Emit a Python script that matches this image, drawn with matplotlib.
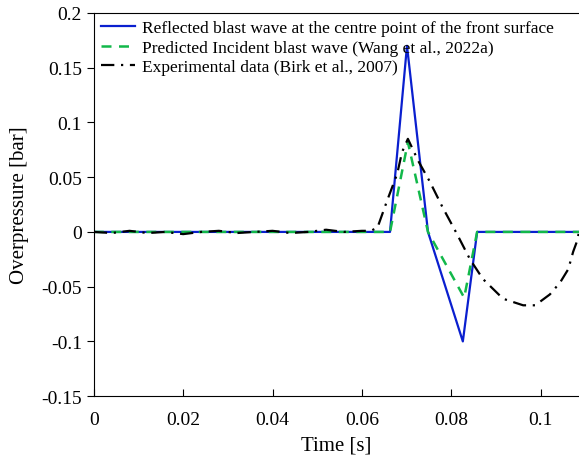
import matplotlib
matplotlib.use('Agg')
import matplotlib.pyplot as plt

# reflected wave at the centre point of the front surface
t_refl = [0.0, 0.0663, 0.0701, 0.0748, 0.0826, 0.0858, 0.11]
p_refl = [0.0, 0.0, 0.170, 0.0, -0.100, 0.0, 0.0]

# predicted incident wave
t_inc = [0.0, 0.0663, 0.0703, 0.0748, 0.0829, 0.0858, 0.11]
p_inc = [0.0, 0.0, 0.082, 0.0, -0.060, 0.0, 0.0]

# experimental record
t_exp = [0.0, 0.004, 0.008, 0.012, 0.016, 0.020, 0.024, 0.028, 0.032, 0.036,
         0.040, 0.044, 0.048, 0.052, 0.056, 0.060, 0.062, 0.0635, 0.0656,
         0.0679, 0.069, 0.0703, 0.0726, 0.0752, 0.078, 0.0813, 0.0842,
         0.0871, 0.0916, 0.0961, 0.0988, 0.1021, 0.1044, 0.1062, 0.1073,
         0.1082, 0.1086]
p_exp = [0.0, -0.001, 0.001, -0.001, 0.0, -0.002, 0.0, 0.001, -0.001, 0.0,
         0.001, -0.001, 0.0, 0.002, 0.0, 0.001, 0.001, 0.004, 0.028,
         0.053, 0.073, 0.085, 0.065, 0.046, 0.023, -0.002, -0.025,
         -0.043, -0.061, -0.067, -0.067, -0.057, -0.046, -0.034, -0.018,
         -0.008, 0.0]

plt.rcParams['font.family'] = 'Liberation Serif'

fig = plt.figure(figsize=(5.79, 4.64), dpi=100)
ax = fig.add_axes([0.162, 0.144, 0.838, 0.826])

ax.plot(t_refl, p_refl, color='#0a1fcf', lw=1.6,
        label='Reflected blast wave at the centre point of the front surface')
ax.plot(t_inc, p_inc, color='#12b84a', lw=1.8, ls=(0, (4, 3)),
        label='Predicted Incident blast wave (Wang et al., 2022a)')
ax.plot(t_exp, p_exp, color='black', lw=1.6, ls=(0, (6, 3, 1, 3)),
        label='Experimental data (Birk et al., 2007)')

ax.set_xlim(0, 0.1086)
ax.set_ylim(-0.15, 0.2)
ax.set_xticks([0, 0.02, 0.04, 0.06, 0.08, 0.1])
ax.set_xticklabels(['0', '0.02', '0.04', '0.06', '0.08', '0.1'])
ax.set_yticks([-0.15, -0.1, -0.05, 0, 0.05, 0.1, 0.15, 0.2])
ax.set_yticklabels(['-0.15', '-0.1', '-0.05', '0', '0.05', '0.1', '0.15', '0.2'])
ax.tick_params(axis='x', direction='in', length=5, labelsize=14, pad=11)
ax.tick_params(axis='y', direction='out', length=5, labelsize=14)
ax.spines['right'].set_visible(False)

ax.set_xlabel('Time [s]', fontsize=15, labelpad=5)
ax.set_ylabel('Overpressure [bar]', fontsize=15, labelpad=9)

ax.legend(loc='upper left', frameon=False, fontsize=12.5, handlelength=2.0,
          handletextpad=0.4, labelspacing=0.2, borderaxespad=0.0)

fig.savefig('out.png', dpi=100)
